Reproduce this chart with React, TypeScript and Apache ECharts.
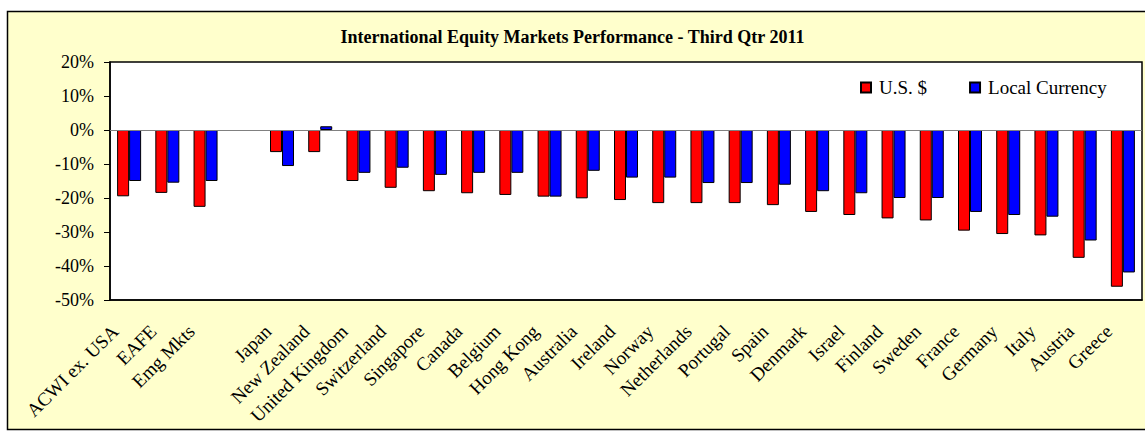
import React, { useEffect, useRef } from "react";
import * as echarts from "echarts";

const categories = [
  "ACWI ex. USA", "EAFE", "Emg Mkts", "", "Japan", "New Zealand", "United Kingdom",
  "Switzerland", "Singapore", "Canada", "Belgium", "Hong Kong", "Australia", "Ireland",
  "Norway", "Netherlands", "Portugal", "Spain", "Denmark", "Israel", "Finland", "Sweden",
  "France", "Germany", "Italy", "Austria", "Greece",
];

const usDollar = [
  -19.5, -18.5, -22.6, null, -6.5, -6.5, -15.0, -17.0, -18.0, -18.6, -19.1, -19.6, -20.1,
  -20.6, -21.5, -21.5, -21.5, -22.1, -24.1, -25.0, -26.0, -26.6, -29.6, -30.6, -31.0, -37.6, -46.1,
];

const localCurrency = [
  -15.0, -15.5, -15.0, null, -10.6, 1.1, -12.6, -11.1, -13.2, -12.6, -12.6, -19.6, -12.0,
  -14.0, -14.0, -15.6, -15.6, -16.1, -18.0, -18.6, -20.0, -20.0, -24.1, -25.0, -25.5, -32.5, -41.9,
];

const seriesNames = ["U.S. $", "Local Currency"];
const titleText = "International Equity Markets Performance - Third Qtr 2011";
const yMin = -50;
const yMax = 20;
const yStep = 10;

const FONT = "'Liberation Serif', 'Times New Roman', serif";

export default function App() {
  const ref = useRef<HTMLDivElement>(null);

  useEffect(() => {
    document.body.style.margin = "0";
    if (!ref.current) return;
    const chart = echarts.init(ref.current, null, { renderer: "svg" });
    chart.setOption({
      animation: false,
      backgroundColor: "#ffffff",
      graphic: {
        z: -100,
        elements: [
          {
            type: "rect",
            z: -100,
            silent: true,
            shape: { x: 7.5, y: 11.5, width: 1140, height: 418 },
            style: { fill: "#FFFFCC", stroke: "#000000", lineWidth: 1.5 },
          },
        ],
      },
      title: {
        text: titleText,
        left: "center",
        top: 23,
        textStyle: { fontFamily: FONT, fontSize: 18, fontWeight: "bold", color: "#000" },
      },
      legend: {
        data: seriesNames,
        left: 855,
        top: 73,
        icon: "rect",
        itemWidth: 10,
        itemHeight: 10,
        itemGap: 42,
        textStyle: { fontFamily: FONT, fontSize: 19, color: "#000", padding: [0, 0, 0, 3] },
      },
      grid: {
        left: 110,
        top: 62,
        right: 3,
        bottom: 132,
        show: true,
        backgroundColor: "#ffffff",
        borderColor: "#000000",
        borderWidth: 1.5,
      },
      xAxis: {
        type: "category",
        data: categories,
        axisLine: { onZero: false, lineStyle: { color: "#000", width: 1.5 } },
        axisTick: { show: false },
        axisLabel: {
          interval: 0,
          rotate: 45,
          margin: 14,
          padding: [0, 20, 0, 0],
          fontFamily: FONT,
          fontSize: 19,
          color: "#000",
        },
        splitLine: { show: false },
      },
      yAxis: {
        type: "value",
        min: yMin,
        max: yMax,
        interval: yStep,
        axisLine: { show: true, lineStyle: { color: "#000", width: 1.5 } },
        axisTick: { show: true, inside: false, length: 6, lineStyle: { color: "#000" } },
        axisLabel: {
          margin: 16,
          formatter: (v: number) => `${v}%`,
          fontFamily: FONT,
          fontSize: 18,
          color: "#000",
        },
        splitLine: { show: false },
      },
      series: [
        {
          name: seriesNames[0],
          type: "bar",
          data: usDollar,
          barWidth: 12,
          barGap: "0%",
          itemStyle: { color: "#FF0000", borderColor: "#000", borderWidth: 1 },
          markLine: {
            silent: true,
            symbol: "none",
            label: { show: false },
            lineStyle: { color: "#808080", width: 1, type: "solid" },
            data: [{ yAxis: 0 }],
          },
        },
        {
          name: seriesNames[1],
          type: "bar",
          data: localCurrency,
          barWidth: 12,
          barGap: "0%",
          itemStyle: { color: "#0000FF", borderColor: "#000", borderWidth: 1 },
        },
      ],
    });
    return () => chart.dispose();
  }, []);

  return <div ref={ref} style={{ width: 1145, height: 432 }} />;
}
